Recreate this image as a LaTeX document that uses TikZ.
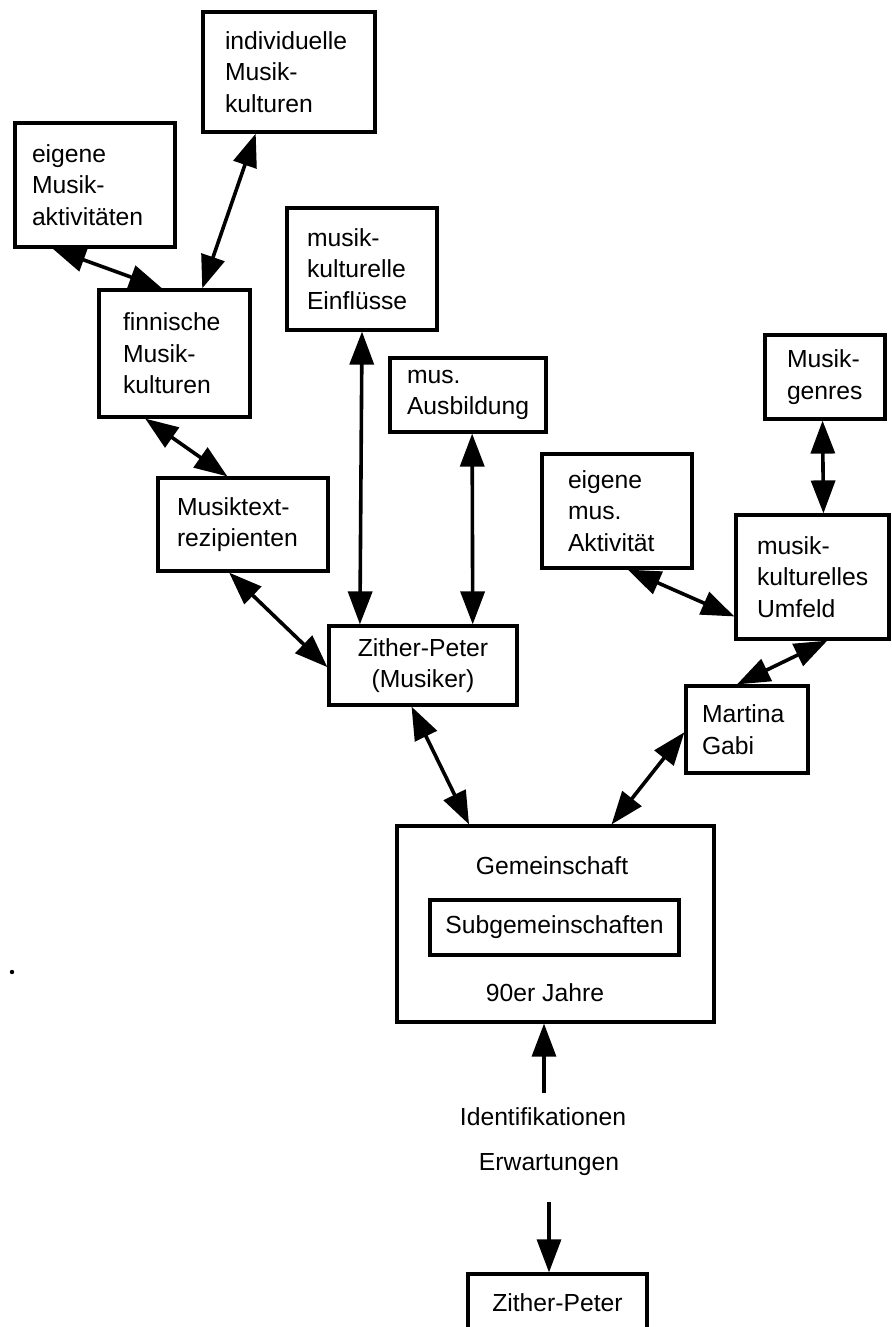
\documentclass[tikz,border=0pt]{standalone}
\usepackage{fontspec}
\setmainfont{Liberation Sans}
\usetikzlibrary{arrows.meta,calc}
\begin{document}
\begin{tikzpicture}[x=1pt,y=-1pt,
  lbl/.style={font=\fontsize{24.7pt}{31.5pt}\selectfont, inner sep=0pt},
  tbox/.style={lbl, draw, line width=3.2pt, align=left, inner ysep=0pt},
  frame/.style={draw, line width=3.2pt},
  tip/.style={Triangle[length=33pt,width=24pt]},
  arr/.style={line width=3.6pt, {Triangle[length=33pt,width=24pt]}-{Triangle[length=33pt,width=24pt]}},
  arrone/.style={line width=3.2pt, -{Triangle[length=33pt,width=24pt]}}]
\clip (0,0) rectangle (891,1327);

% boxes of the upper network
\node[tbox, inner xsep=22pt, text width=128pt, minimum height=120pt] (ind) at (289,72) {individuelle\\Musik-\\kulturen};
\node[tbox, inner xsep=17pt, text width=126pt, minimum height=124pt] (eigM) at (95,185) {eigene\\Musik-\\aktivitäten};
\node[tbox, inner xsep=20pt, text width=110pt, minimum height=122pt] (einfl) at (362,269) {musik-\\kulturelle\\Einflüsse};
\node[tbox, inner xsep=24pt, text width=103pt, minimum height=127pt] (finn) at (174.5,353.5) {finnische\\Musik-\\kulturen};
\node[tbox, inner xsep=17pt, text width=122pt, minimum height=74pt] (ausb) at (468,395) {mus.\\Ausbildung};
\node[tbox, inner xsep=19pt, text width=132pt, minimum height=93pt] (mtext) at (243,524.5) {Musiktext-\\rezipienten};
\node[tbox, align=center, minimum width=188pt, minimum height=79pt] (zith) at (423,665.5) {Zither-Peter\\(Musiker)};
\node[tbox, inner xsep=22pt, text width=76pt, minimum height=84pt] (genres) at (825,377) {Musik-\\genres};
\node[tbox, inner xsep=26pt, text width=98pt, minimum height=114pt] (eigmus) at (617,511) {eigene\\mus.\\Aktivität};
\node[tbox, inner xsep=21pt, text width=111pt, minimum height=124pt] (umfeld) at (812.5,577) {musik-\\kulturelles\\Umfeld};
\node[tbox, inner xsep=16pt, text width=90pt, minimum height=87pt] (martina) at (747,729.5) {Martina\\Gabi};

% community box with its contents
\node[frame, minimum width=317pt, minimum height=196pt] (gem) at (555.5,924) {};
\node[lbl] (gemt) at (552,866) {Gemeinschaft};
\node[tbox, align=center, minimum width=249pt, minimum height=55pt] (subgem) at (554.5,927.5) {Subgemeinschaften};
\node[lbl] (jahre) at (545,993) {90er Jahre};

% lower chain
\node[lbl] (ident) at (543,1117) {Identifikationen};
\node[lbl] (erw) at (549,1165) {Erwartungen};
\node[tbox, align=center, minimum width=179pt, minimum height=58pt] (zp2) at (557.5,1303) {Zither-Peter};

\fill (12,972) circle (2.2pt);

% connectors
\draw[arr] ($(eigM.south west)!0.24!(eigM.south east)$) -- ($(finn.north west)!0.42!(finn.north east)$);
\draw[arr] ($(ind.south west)!0.31!(ind.south east)$) -- ($(finn.north west)!0.68!(finn.north east)$);
\draw[arr] (einfl.south) -- ($(zith.north west)!0.17!(zith.north east)$);
\draw[arr] ($(ausb.south west)!0.526!(ausb.south east)$) -- ($(zith.north west)!0.76!(zith.north east)$);
\draw[arr] ($(finn.south west)!0.31!(finn.south east)$) -- ($(mtext.north west)!0.41!(mtext.north east)$);
\draw[arr] ($(mtext.south west)!0.42!(mtext.south east)$) -- ($(zith.north west)!0.52!(zith.south west)$);
\draw[arr] ($(zith.south west)!0.44!(zith.south east)$) -- ($(gem.north west)!0.23!(gem.north east)$);
\draw[arr] ($(martina.north west)!0.53!(martina.south west)$) -- ($(gem.north west)!0.675!(gem.north east)$);
\draw[arr] ($(umfeld.south west)!0.595!(umfeld.south east)$) -- ($(martina.north west)!0.42!(martina.north east)$);
\draw[arr] ($(eigmus.south west)!0.57!(eigmus.south east)$) -- ($(umfeld.north west)!0.81!(umfeld.south west)$);
\draw[arr] ($(genres.south west)!0.48!(genres.south east)$) -- ($(umfeld.north west)!0.57!(umfeld.north east)$);

\coordinate (idtop) at (544,1093);
\draw[arrone] (idtop) -- (idtop |- gem.south);
\coordinate (erwbot) at (549,1202);
\draw[arrone] (erwbot) -- (erwbot |- zp2.north);
\end{tikzpicture}
\end{document}
